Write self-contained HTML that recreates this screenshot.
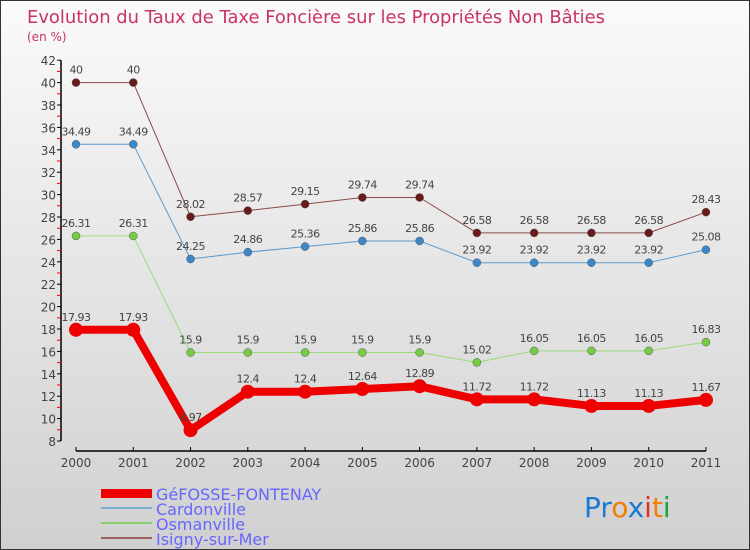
<!DOCTYPE html>
<html><head><meta charset="utf-8"><style>
body{margin:0;}
#c{width:748px;height:548px;border:1px solid #333;background:linear-gradient(#fafafa,#d0d0d0);position:relative;overflow:hidden;font-family:"DejaVu Sans","Liberation Sans",sans-serif;}
</style></head><body>
<div id="c">
<svg id="s" width="748" height="548" xmlns="http://www.w3.org/2000/svg" style="position:absolute;left:0;top:0">
<text x="26" y="22" font-size="18" fill="#c8336a" font-family="DejaVu Sans, sans-serif" textLength="578" lengthAdjust="spacingAndGlyphs">Evolution du Taux de Taxe Foncière sur les Propriétés Non Bâties</text>
<text x="26" y="40" font-size="12" fill="#c8336a">(en %)</text>
<g id="axes"></g><g id="series"></g>
<g>
<rect x="100" y="488" width="51" height="9" fill="#e00"/>
<text x="155" y="499" font-size="16" fill="#6666ff">GéFOSSE-FONTENAY</text>
<rect x="100" y="506" width="51" height="2" fill="#7aaed0"/>
<text x="155" y="514" font-size="16" fill="#6666ff">Cardonville</text>
<rect x="100" y="521" width="51" height="2" fill="#88d070"/>
<text x="155" y="529" font-size="16" fill="#6666ff">Osmanville</text>
<rect x="100" y="536" width="51" height="2" fill="#a06060"/>
<text x="155" y="544" font-size="16" fill="#6666ff">Isigny-sur-Mer</text>
</g>
<g font-size="28" font-family="DejaVu Sans, sans-serif">
<text x="583" y="516"><tspan fill="#1a7ad0">Pr</tspan><tspan fill="#f08000">o</tspan><tspan fill="#1a7ad0">x</tspan><tspan fill="#e03020">i</tspan><tspan fill="#f08000">t</tspan><tspan fill="#20a040">i</tspan></text>
</g>
</svg></div>
<script>
const years=[2000,2001,2002,2003,2004,2005,2006,2007,2008,2009,2010,2011];
const gefosse=[17.93,17.93,8.97,12.4,12.4,12.64,12.89,11.72,11.72,11.13,11.13,11.67];
const cardonville=[34.49,34.49,24.25,24.86,25.36,25.86,25.86,23.92,23.92,23.92,23.92,25.08];
const osmanville=[26.31,26.31,15.9,15.9,15.9,15.9,15.9,15.02,16.05,16.05,16.05,16.83];
const isigny=[40,40,28.02,28.57,29.15,29.74,29.74,26.58,26.58,26.58,26.58,28.43];
const yTicks=[8,10,12,14,16,18,20,22,24,26,28,30,32,34,36,38,40,42];
const NS="http://www.w3.org/2000/svg";
function X(i){return 75+i*57.27;}
function Y(v){return 440-(v-8)*11.2;}
function mk(t,a,p){const e=document.createElementNS(NS,t);for(const k in a)e.setAttribute(k,a[k]);p.appendChild(e);return e;}
const ax=document.getElementById('axes');
let l=mk('line',{x1:60,y1:Y(42),x2:60,y2:Y(8),stroke:'#000','stroke-width':1.5},ax);


l=mk('line',{x1:X(0),y1:450,x2:X(11),y2:450,stroke:'#000','stroke-width':1.5},ax);


yTicks.forEach(v=>{
 mk('line',{x1:56,x2:60,y1:Y(v),y2:Y(v),stroke:'#000'},ax);
 if(v<42)mk('line',{x1:56,x2:60,y1:Y(v+1),y2:Y(v+1),stroke:'#e00'},ax);
 const t=mk('text',{x:55,y:Y(v)+5,'font-size':12,'text-anchor':'end',fill:'#444'},ax);t.textContent=v;
 
 
});
years.forEach((y,i)=>{
 mk('line',{x1:X(i),x2:X(i),y1:446,y2:450,stroke:'#000'},ax);
 const t=mk('text',{x:X(i),y:466,'font-size':12,'text-anchor':'middle',fill:'#444'},ax);t.textContent=y;
 
 
});
const sg=document.getElementById('series');
function draw(vals,color,fill,w,r,name){
 const g=mk('g',{},sg);
 
 
 mk('polyline',{points:vals.map((v,i)=>X(i)+','+Y(v)).join(' '),fill:'none',stroke:color,'stroke-width':w,'stroke-linejoin':'round'},g);
 vals.forEach((v,i)=>{
  const c=mk('circle',{cx:X(i),cy:Y(v),r:r,fill:fill,stroke:w>3?'none':'#555','stroke-width':0.5},g);
  
  
  const t=mk('text',{x:X(i),y:Y(v)-9,'font-size':11,'text-anchor':'middle',fill:'#444','letter-spacing':'-0.5'},g);t.textContent=v;
 });
}
draw(isigny,'#8b4a4a','#6a1a1a',1,4,'series-isigny');
draw(cardonville,'#5a9ad0','#3a88c8',1,4,'series-cardonville');
draw(osmanville,'#99dd77','#77cc44',1,4,'series-osmanville');
draw(gefosse,'#ee0000','#ee0000',8,7,'series-gefosse');
</script>
</body></html>
